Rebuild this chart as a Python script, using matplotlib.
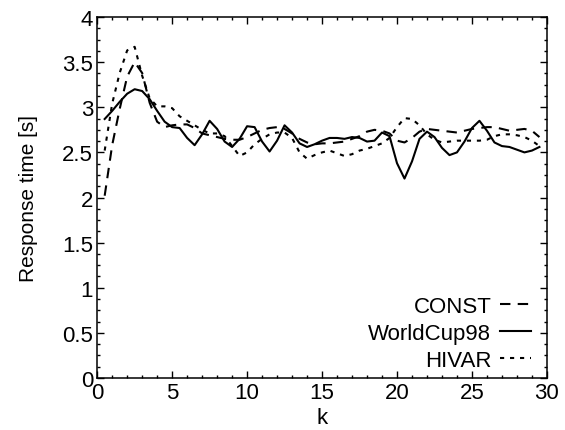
import matplotlib
matplotlib.use("Agg")
import matplotlib.pyplot as plt
from matplotlib.ticker import MultipleLocator

# ─── DATA ───────────────────────────────────────────────────────────────────
k = [0.5, 1, 1.5, 2, 2.5, 3, 3.5, 4, 4.5, 5, 5.5, 6, 6.5, 7, 7.5, 8, 8.5, 9, 9.5, 10,
     10.5, 11, 11.5, 12, 12.5, 13, 13.5, 14, 14.5, 15, 15.5, 16, 16.5, 17, 17.5, 18,
     18.5, 19, 19.5, 20, 20.5, 21, 21.5, 22, 22.5, 23, 23.5, 24, 24.5, 25, 25.5, 26,
     26.5, 27, 27.5, 28, 28.5, 29, 29.5]

const = [2.02, 2.58, 2.98, 3.34, 3.50, 3.38, 3.05, 2.84, 2.78, 2.80, 2.81, 2.81, 2.77,
         2.71, 2.69, 2.67, 2.65, 2.64, 2.64, 2.67, 2.71, 2.75, 2.77, 2.78, 2.76, 2.71,
         2.65, 2.61, 2.59, 2.60, 2.60, 2.61, 2.62, 2.65, 2.68, 2.73, 2.75, 2.74, 2.71,
         2.63, 2.61, 2.66, 2.73, 2.76, 2.75, 2.74, 2.73, 2.72, 2.74, 2.76, 2.77, 2.78,
         2.78, 2.76, 2.74, 2.75, 2.76, 2.74, 2.67]

worldcup = [2.87, 2.96, 3.06, 3.15, 3.20, 3.18, 3.09, 2.96, 2.84, 2.78, 2.77, 2.66, 2.58,
            2.70, 2.85, 2.76, 2.62, 2.56, 2.65, 2.79, 2.78, 2.62, 2.51, 2.63, 2.80, 2.72,
            2.60, 2.56, 2.59, 2.63, 2.66, 2.66, 2.65, 2.67, 2.66, 2.62, 2.63, 2.72, 2.68,
            2.38, 2.21, 2.40, 2.65, 2.73, 2.67, 2.55, 2.47, 2.50, 2.62, 2.77, 2.85, 2.74,
            2.61, 2.57, 2.56, 2.53, 2.50, 2.52, 2.56]

hivar = [2.52, 3.04, 3.38, 3.63, 3.67, 3.35, 3.10, 3.01, 3.01, 2.99, 2.90, 2.85, 2.80,
         2.75, 2.71, 2.71, 2.68, 2.57, 2.46, 2.50, 2.59, 2.65, 2.70, 2.72, 2.72, 2.66,
         2.50, 2.43, 2.47, 2.50, 2.52, 2.49, 2.46, 2.48, 2.52, 2.54, 2.57, 2.60, 2.66,
         2.78, 2.88, 2.87, 2.80, 2.70, 2.64, 2.61, 2.62, 2.63, 2.63, 2.63, 2.63, 2.64,
         2.68, 2.70, 2.70, 2.69, 2.67, 2.63, 2.57]

x_ticks = [0, 5, 10, 15, 20, 25, 30]
y_ticks = [0, 0.5, 1, 1.5, 2, 2.5, 3, 3.5, 4]
y_tick_labels = ["0", "0.5", "1", "1.5", "2", "2.5", "3", "3.5", "4"]
# ─────────────────────────────────────────────────────────────────────────────

plt.rcParams["font.family"] = ["Liberation Sans", "DejaVu Sans"]
FS = 16

fig = plt.figure(figsize=(5.65, 4.31), dpi=100)
ax = fig.add_axes([0.172, 0.1206, 0.796, 0.8376])

ax.plot(k, const, color="black", lw=1.5, dashes=(5, 3.5), label="CONST")
ax.plot(k, worldcup, color="black", lw=1.5, label="WorldCup98")
ax.plot(k, hivar, color="black", lw=1.5, dashes=(2.0, 2.8), label="HIVAR")

ax.set_xlim(0, 30)
ax.set_ylim(0, 4)
ax.set_xticks(x_ticks)
ax.set_yticks(y_ticks)
ax.set_yticklabels(y_tick_labels)
ax.xaxis.set_minor_locator(MultipleLocator(1))
ax.yaxis.set_minor_locator(MultipleLocator(0.125))
ax.tick_params(which="both", direction="in", top=True, right=True,
               labelsize=FS, width=1.0, pad=3)
ax.tick_params(which="major", length=5)
ax.tick_params(which="minor", length=2.5)
for s in ax.spines.values():
    s.set_linewidth(1.1)

ax.set_xlabel("k", fontsize=FS, labelpad=3)
ax.set_ylabel("Response time [s]", fontsize=15, labelpad=17)

ax.legend(loc="lower right", bbox_to_anchor=(0.985, -0.005), frameon=False,
          markerfirst=False, fontsize=FS, handlelength=1.4, handletextpad=0.4,
          labelspacing=0.27, borderaxespad=0.0)

fig.savefig("out.png", dpi=100, facecolor="white")
